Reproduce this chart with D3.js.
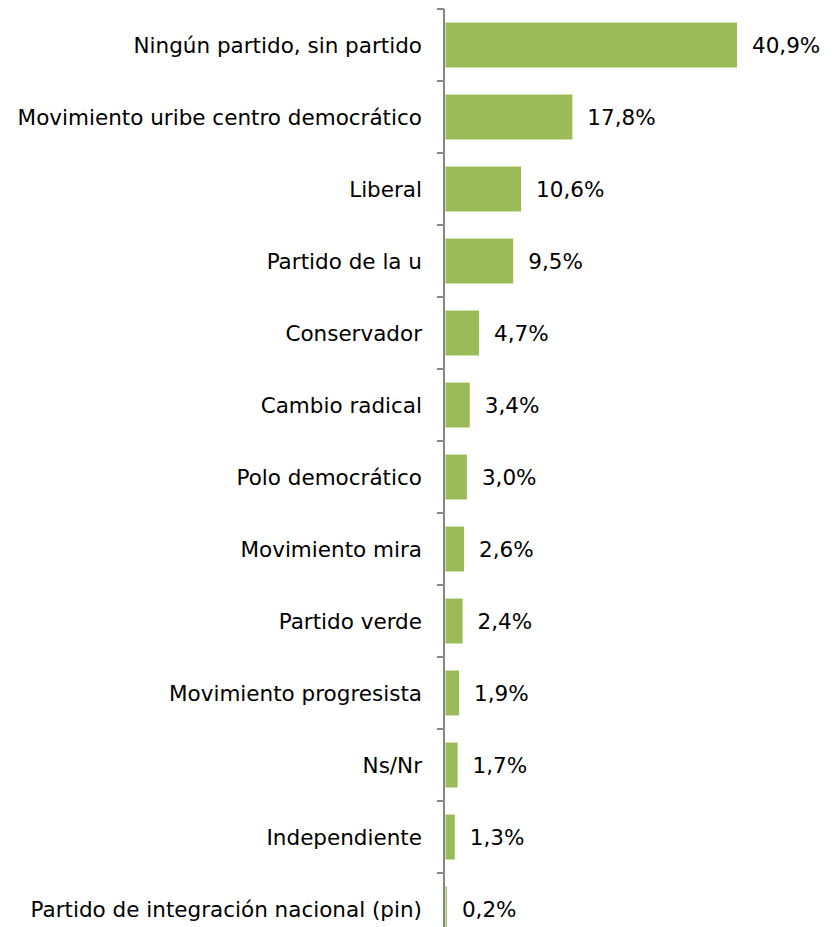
<!DOCTYPE html>
<html><head><meta charset="utf-8">
<script src="https://cdn.jsdelivr.net/npm/d3@7"></script>
<style>body{margin:0;background:#fff}svg{display:block}</style>
</head><body>
<script>
const categories = ["Ningún partido, sin partido","Movimiento uribe centro democrático","Liberal","Partido de la u","Conservador","Cambio radical","Polo democrático","Movimiento mira","Partido verde","Movimiento progresista","Ns/Nr","Independiente","Partido de integración nacional (pin)"];
const values = [40.9,17.8,10.6,9.5,4.7,3.4,3.0,2.6,2.4,1.9,1.7,1.3,0.2];
const valueLabels = ["40,9%","17,8%","10,6%","9,5%","4,7%","3,4%","3,0%","2,6%","2,4%","1,9%","1,7%","1,3%","0,2%"];

const W=834,H=927;
const svg=d3.select("body").append("svg").attr("width",W).attr("height",H);
const y=d3.scaleBand().domain(categories).range([9,945]).paddingInner(0.375).paddingOuter(0.1875);
const x=d3.scaleLinear().domain([0,40.9]).range([445.5,737]);
const font="'DejaVu Sans', sans-serif";

svg.append("g").selectAll("rect").data(values).join("rect")
  .attr("x",x(0)).attr("y",(d,i)=>y(categories[i]))
  .attr("width",d=>x(d)-x(0)).attr("height",y.bandwidth())
  .attr("fill","#9BBB59");

// axis
const ax=svg.append("g").attr("stroke","#868686").attr("stroke-width",2);
ax.append("line").attr("x1",444).attr("x2",444).attr("y1",9).attr("y2",H);
const step=y.step();
const bounds=categories.map(c=>y(c)-step*y.paddingInner()/2);
bounds.push(bounds[bounds.length-1]+step);
ax.selectAll("line.t").data(bounds).join("line").attr("class","t")
  .attr("x1",437).attr("x2",444).attr("y1",d=>d).attr("y2",d=>d);

svg.append("g").selectAll("text").data(categories).join("text")
  .attr("x",422).attr("y",c=>y(c)+y.bandwidth()/2).attr("dy","0.36em")
  .attr("text-anchor","end").attr("font-family",font).attr("font-size",21.5).attr("fill","#000")
  .text(d=>d);

svg.append("g").selectAll("text").data(values).join("text")
  .attr("x",d=>x(d)+15).attr("y",(d,i)=>y(categories[i])+y.bandwidth()/2).attr("dy","0.36em")
  .attr("font-family",font).attr("font-size",21.5).attr("fill","#000")
  .text((d,i)=>valueLabels[i]);
</script>
</body></html>
